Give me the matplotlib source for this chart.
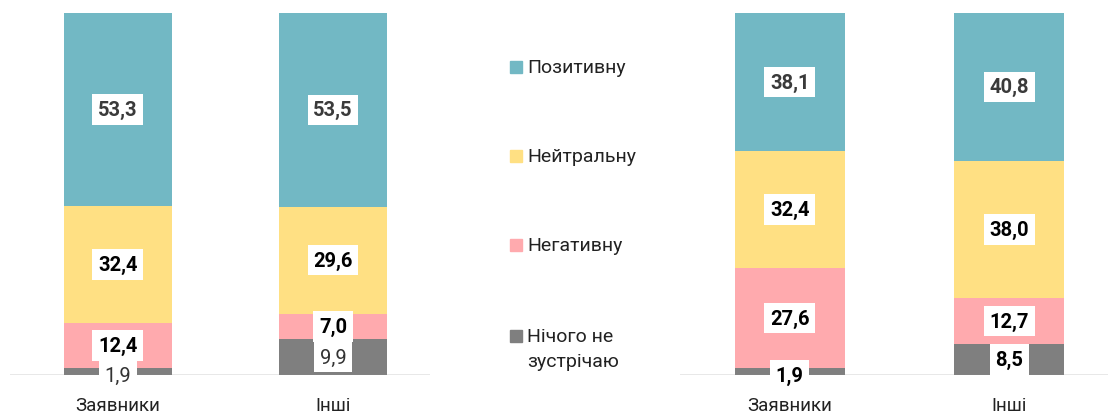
import matplotlib.pyplot as plt
from matplotlib.patches import Rectangle

plt.rcParams['font.family'] = ['Roboto', 'DejaVu Sans']

groups = ['Заявники', 'Інші']
series = ['Нічого не\nзустрічаю', 'Негативну', 'Нейтральну', 'Позитивну']
colors = ['#7f7f7f', '#ffaaae', '#ffe083', '#72b8c4']

# stacked from the bottom: nothing, negative, neutral, positive
left_vals = [[1.9, 12.4, 32.4, 53.3], [9.9, 7.0, 29.6, 53.5]]
right_vals = [[1.9, 27.6, 32.4, 38.1], [8.5, 12.7, 38.0, 40.8]]

# label styles per segment (weight, colour)
left_style = [('normal', '#333333'), ('bold', 'black'), ('bold', 'black'), ('bold', '#3a3a3a')]
right_style = [('bold', 'black'), ('bold', 'black'), ('bold', 'black'), ('bold', '#3a3a3a')]

W, H = 1108, 414
fig = plt.figure(figsize=(W / 100, H / 100), dpi=100)


def panel(left_px, width_px, vals, style):
    ax = fig.add_axes([left_px / W, 38 / H, width_px / W, 362 / H])
    for i, stack in enumerate(vals):
        bottom = 0
        for j, v in enumerate(stack):
            ax.bar(i, v, bottom=bottom, width=0.5, color=colors[j], linewidth=0)
            ymid = bottom + v / 2 if v > 3 else 0
            w, c = style[j]
            ax.text(i, ymid, f'{v:.1f}'.replace('.', ','), ha='center', va='center',
                    fontsize=14.5, fontweight=w, color=c, zorder=5,
                    bbox=dict(boxstyle='square,pad=0.28', fc='white', ec='none'))
            bottom += v
    ax.axhline(0, color='#8a8a8a', lw=1, zorder=4)
    ax.set_xlim(-0.5, 1.45)
    ax.set_ylim(0, 100)
    ax.set_xticks(range(len(groups)))
    ax.set_xticklabels(groups, fontsize=13.5, color='#222222')
    ax.tick_params(axis='x', length=0, pad=15)
    ax.set_yticks([])
    for s in ax.spines.values():
        s.set_visible(False)
    return ax


panel(10, 420, left_vals, left_style)
panel(680, 428, right_vals, right_style)

# legend
leg_y = [68, 157, 246, 337]
for k, y in enumerate(leg_y):
    j = len(series) - 1 - k
    fig.patches.append(Rectangle((510 / W, (H - y - 6) / H), 12 / W, 12 / H,
                                 transform=fig.transFigure, color=colors[j]))
    if '\n' in series[j]:
        fig.text(527 / W, (H - y + 9) / H, series[j], fontsize=14, color='#222222',
                 va='top', linespacing=1.5)
    else:
        fig.text(527 / W, (H - y) / H, series[j], fontsize=14, color='#222222',
                 va='center')

fig.savefig('out.png', dpi=100)
